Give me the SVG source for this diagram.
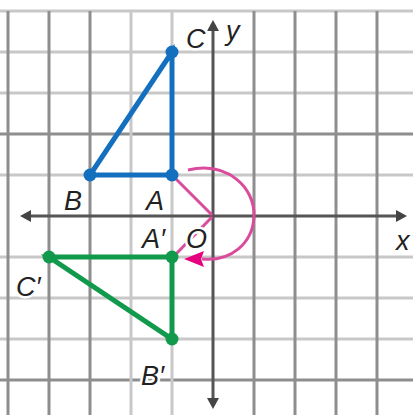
<svg xmlns="http://www.w3.org/2000/svg" width="413" height="415" viewBox="0 0 413 415">
<style>
.gd{stroke:#8e8e8e;stroke-width:3;fill:none}
.gl{stroke:#c8c8c8;stroke-width:3;fill:none}
.ax{stroke:#555;stroke-width:3;fill:none}
.axh{fill:#444}
.lbl{font-family:"Liberation Sans",Arial,sans-serif;font-style:italic;font-size:27px;fill:#222;stroke:#fff;stroke-width:5;paint-order:stroke;stroke-linejoin:round}
.blue{stroke:#1470bf;stroke-width:5;fill:none;stroke-linecap:round}
.green{stroke:#119a4c;stroke-width:5;fill:none;stroke-linecap:round}
.pink{stroke:#db4b9c;stroke-width:3;fill:none}
</style>
<rect width="413" height="415" fill="#fff"/>
<g id="grid">
<line class="gl" x1="0" y1="11" x2="413" y2="11"/>
<line class="gl" x1="0" y1="52" x2="413" y2="52"/>
<line class="gl" x1="0" y1="93" x2="413" y2="93"/>
<line class="gd" x1="0" y1="134" x2="413" y2="134"/>
<line class="gl" x1="0" y1="175" x2="413" y2="175"/>
<line class="gl" x1="0" y1="257" x2="413" y2="257"/>
<line class="gl" x1="0" y1="298" x2="413" y2="298"/>
<line class="gl" x1="0" y1="339" x2="413" y2="339"/>
<line class="gd" x1="0" y1="380" x2="413" y2="380"/>
<line class="gd" x1="8" y1="11" x2="8" y2="415"/>
<line class="gd" x1="49" y1="11" x2="49" y2="415"/>
<line class="gd" x1="90" y1="11" x2="90" y2="415"/>
<line class="gl" x1="131" y1="11" x2="131" y2="415"/>
<line class="gl" x1="172" y1="11" x2="172" y2="415"/>
<line class="gd" x1="254" y1="11" x2="254" y2="415"/>
<line class="gd" x1="295" y1="11" x2="295" y2="415"/>
<line class="gd" x1="336" y1="11" x2="336" y2="415"/>
<line class="gd" x1="377" y1="11" x2="377" y2="415"/>
</g>
<g id="axes">
<line class="ax" x1="24" y1="216" x2="402" y2="216"/>
<line class="ax" x1="213" y1="24" x2="213" y2="404"/>
<polygon class="axh" points="20,216 31,210 31,222"/>
<polygon class="axh" points="407,216 396,210 396,222"/>
<polygon class="axh" points="213,20 207,31 219,31"/>
<polygon class="axh" points="213,409 207,398 219,398"/>
</g>
<g id="connectors">
<line class="pink" x1="174" y1="177" x2="212" y2="215"/>
<line class="pink" x1="212" y1="217" x2="176" y2="254"/>
<path class="pink" d="M188,170 C228,161 255,188 254,216 C253,244 230,262 202,259"/>
<polygon fill="#e6007e" points="184,259 204,251 201,259 204,267"/>
</g>
<g id="triangle-ABC">
<polygon class="blue" points="172,52 90,175 172,175"/>
<circle cx="172" cy="52" r="6.5" fill="#1470bf"/>
<circle cx="90" cy="175" r="6.5" fill="#1470bf"/>
<circle cx="172" cy="175" r="6.5" fill="#1470bf"/>
</g>
<g id="triangle-A1B1C1">
<polygon class="green" points="172,257 49,257 172,339"/>
<circle cx="172" cy="257" r="6.5" fill="#119a4c"/>
<circle cx="49" cy="257" r="6.5" fill="#119a4c"/>
<circle cx="172" cy="339" r="6.5" fill="#119a4c"/>
</g>
<g id="labels">
<text class="lbl" x="186" y="48">C</text>
<text class="lbl" x="226" y="40">y</text>
<text class="lbl" x="64" y="210">B</text>
<text class="lbl" x="146" y="210">A</text>
<text class="lbl" x="142" y="248">A′</text>
<text class="lbl" x="186" y="248">O</text>
<text class="lbl" x="396" y="250">x</text>
<text class="lbl" x="16" y="296">C′</text>
<text class="lbl" x="141" y="385">B′</text>
</g>
</svg>
